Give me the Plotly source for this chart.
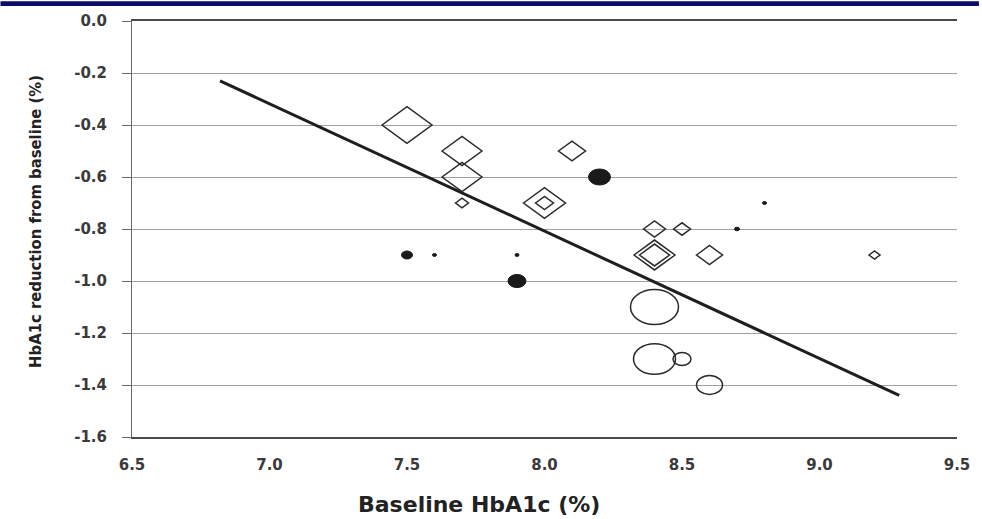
import plotly.graph_objects as go

# ---- data ----
# open diamonds (studies); concentric pairs are separate studies at the same point
dia_x = [7.5, 7.7, 7.7, 7.7, 8.1, 8.0, 8.0, 8.4, 8.5, 8.4, 8.4, 8.6, 9.2]
dia_y = [-0.4, -0.5, -0.6, -0.7, -0.5, -0.7, -0.7, -0.8, -0.8, -0.9, -0.9, -0.9, -0.9]
dia_w = [50, 40, 40, 13, 27, 42, 18, 22, 17, 41, 30, 26, 11]

# filled circles
fc_x = [8.2, 7.5, 7.6, 7.9, 7.9, 8.7, 8.8]
fc_y = [-0.6, -0.9, -0.9, -0.9, -1.0, -0.8, -0.7]
fc_w = [22, 11, 4, 4, 18, 5, 4]

# open circles
oc_x = [8.4, 8.4, 8.5, 8.6]
oc_y = [-1.1, -1.3, -1.3, -1.4]
oc_w = [48, 42, 18, 26]

# regression line end points
fit_x = [6.82, 9.29]
fit_y = [-0.23, -1.44]

y_ticks = [0.0, -0.2, -0.4, -0.6, -0.8, -1.0, -1.2, -1.4, -1.6]
y_ticktext = ["0.0", "-0.2", "-0.4", "-0.6", "-0.8", "-1.0", "-1.2", "-1.4", "-1.6"]
x_ticks = [6.5, 7.0, 7.5, 8.0, 8.5, 9.0, 9.5]
x_ticktext = ["6.5", "7.0", "7.5", "8.0", "8.5", "9.0", "9.5"]

ASPECT = 0.73  # the source figure is stretched horizontally

W, H = 982, 519
ML, MR, MT, MB = 132, 22, 18, 82
PW, PH = W - ML - MR, H - MT - MB

fig = go.Figure()

# regression line
fig.add_trace(go.Scatter(x=fit_x, y=fit_y, mode="lines",
                         line=dict(color="#1e1e1e", width=3), hoverinfo="skip",
                         showlegend=False))

# hover carriers (invisible) for the data points
for xs, ys, nm in [(dia_x, dia_y, "diamond"), (fc_x, fc_y, "filled"), (oc_x, oc_y, "open")]:
    fig.add_trace(go.Scatter(x=xs, y=ys, mode="markers", name=nm,
                             marker=dict(size=8, opacity=0), showlegend=False))

shapes = []
# open circles
for x, y, w in zip(oc_x, oc_y, oc_w):
    h = w * ASPECT
    shapes.append(dict(type="circle", xref="x", yref="y", xsizemode="pixel", ysizemode="pixel",
                       xanchor=x, yanchor=y, x0=-w / 2, x1=w / 2, y0=-h / 2, y1=h / 2,
                       line=dict(color="#2a2a2a", width=1.5), fillcolor="rgba(255,255,255,0)"))
# open diamonds (largest first)
order = sorted(range(len(dia_x)), key=lambda i: -dia_w[i])
for i in order:
    w = dia_w[i]
    h = w * ASPECT
    path = f"M {-w/2},0 L 0,{h/2} L {w/2},0 L 0,{-h/2} Z"
    shapes.append(dict(type="path", xref="x", yref="y", xsizemode="pixel", ysizemode="pixel",
                       xanchor=dia_x[i], yanchor=dia_y[i], path=path,
                       line=dict(color="#2a2a2a", width=1.5), fillcolor="rgba(255,255,255,0)"))
# filled circles
for x, y, w in zip(fc_x, fc_y, fc_w):
    h = w * ASPECT
    shapes.append(dict(type="circle", xref="x", yref="y", xsizemode="pixel", ysizemode="pixel",
                       xanchor=x, yanchor=y, x0=-w / 2, x1=w / 2, y0=-h / 2, y1=h / 2,
                       line=dict(color="#1a1a1a", width=1), fillcolor="#1a1a1a"))

# navy strip across the top of the slide
shapes.append(dict(type="rect", xref="paper", yref="paper",
                   x0=-ML / PW, x1=1 + MR / PW,
                   y0=1 + (MT - 3) / PH, y1=1 + (MT + 2) / PH,
                   line=dict(width=0), fillcolor="#0b0b6b", layer="above"))

tickfont = dict(family="DejaVu Sans, sans-serif", size=15, color="#3a3a3a", weight="bold")

fig.update_layout(
    width=W, height=H,
    margin=dict(l=ML, r=MR, t=MT, b=MB),
    paper_bgcolor="white", plot_bgcolor="white",
    shapes=shapes,
    showlegend=False,
    xaxis=dict(range=[6.5, 9.5], tickvals=x_ticks, ticktext=x_ticktext,
               showgrid=False, zeroline=False, showline=True, mirror=True,
               linecolor="#4a4a4a", linewidth=1.5, ticks="",
               tickfont=tickfont, ticklabelstandoff=13, fixedrange=True),
    yaxis=dict(range=[-1.6, 0.0], tickvals=y_ticks, ticktext=y_ticktext,
               showgrid=True, gridcolor="#a0a0a0", gridwidth=1,
               zeroline=False, showline=True, linecolor="#6a6a6a", linewidth=1,
               ticks="outside", ticklen=9, tickcolor="#6a6a6a", tickwidth=1,
               tickfont=tickfont, ticklabelstandoff=12, fixedrange=True),
    annotations=[
        dict(text="<span style='font-stretch:condensed'>HbA1c reduction from baseline (%)</span>",
             xref="paper", yref="paper",
             x=(35 - ML) / PW, y=(H - MB - 220) / PH, textangle=-90, showarrow=False,
             xanchor="center", yanchor="middle",
             font=dict(family="DejaVu Sans Condensed, DejaVu Sans, sans-serif",
                       size=16.5, color="#222222", weight="bold")),
        dict(text="Baseline HbA1c (%)", xref="paper", yref="paper",
             x=(480 - ML) / PW, y=(H - MB - 505) / PH, showarrow=False,
             xanchor="center", yanchor="middle",
             font=dict(family="DejaVu Sans, sans-serif", size=22, color="#222222", weight="bold")),
    ],
)

fig.write_html("out.html", config={"displayModeBar": False},
               post_script="document.body.style.margin='0px';")
